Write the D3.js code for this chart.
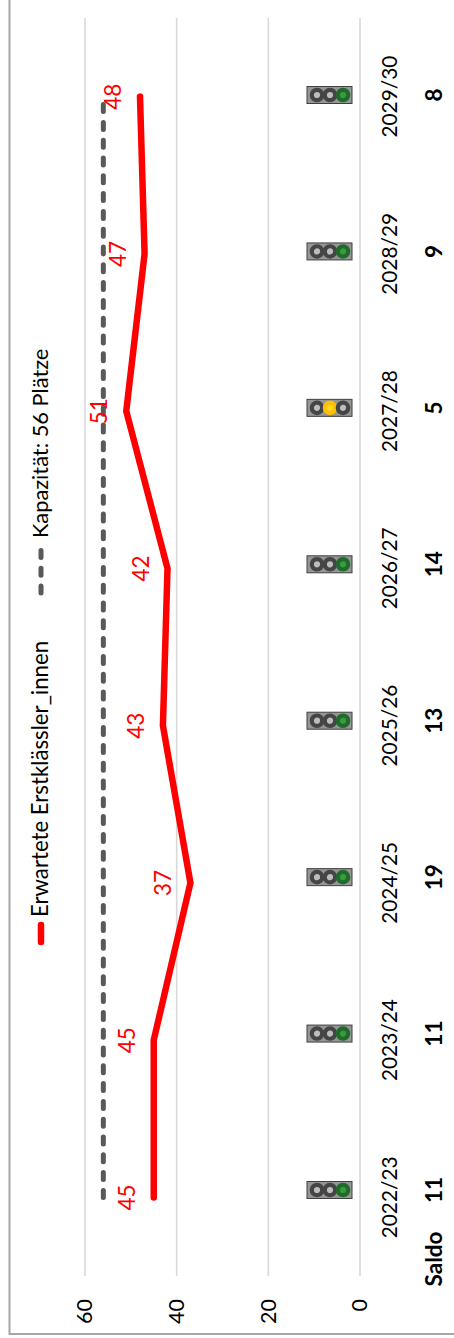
<!DOCTYPE html>
<html>
<head><meta charset="utf-8">
<title>Erstklässler</title>
<style>
html, body { margin:0; padding:0; background:#fff; }
svg { display:block; }
text { font-family:Lato, "Noto Sans", sans-serif; }
</style>
</head>
<body>
<svg width="454" height="1338"></svg>
<script src="https://d3js.org/d3.v7.min.js"></script>
<script>
var years = ["2022/23","2023/24","2024/25","2025/26","2026/27","2027/28","2028/29","2029/30"];
var pupils = [45,45,37,43,42,51,47,48];
var capacity = [56,56,56,56,56,56,56,56];
var saldo = [11,11,19,13,14,5,9,8];
var lights = ["green","green","green","green","green","yellow","green","green"];
var valueTicks = [0,20,40,60];

var W = 454, H = 1338;
var svg = d3.select("svg");

// page frame
svg.append("rect")
    .attr("x", 9.5).attr("y", -10)
    .attr("width", W + 20).attr("height", 1344)
    .attr("fill", "none").attr("stroke", "#a6a6a6").attr("stroke-width", 2);

// the whole chart is laid out upright, then turned a quarter to the left
var g = svg.append("g").attr("transform", "translate(0," + H + ") rotate(-90)");

var x = d3.scaleBand().domain(years).range([62, 1320]);
var y = d3.scaleLinear().domain([0, 60]).range([360, 85]);
// the icon and saldo row sits slightly off the category centres
var xRow = d3.scalePoint().domain(years).range([148, 1243]);

function cx(d, i) { return x(years[i]) + x.bandwidth() / 2; }

g.append("g").selectAll("line")
  .data(valueTicks)
  .enter().append("line")
    .attr("x1", 62).attr("x2", 1320)
    .attr("y1", function(d) { return y(d); })
    .attr("y2", function(d) { return y(d); })
    .attr("stroke", "#d9d9d9").attr("stroke-width", 1.6);

var yAxis = g.append("g").attr("transform", "translate(62,0)")
    .call(d3.axisLeft(y).tickValues(valueTicks).tickSize(0).tickPadding(23));
yAxis.select(".domain").remove();
yAxis.selectAll("text").attr("font-size", 21.5).attr("font-family", "Lato").attr("fill", "#000");

var xAxis = g.append("g").attr("transform", "translate(0,360)")
    .call(d3.axisBottom(x).tickSize(0).tickPadding(22));
xAxis.select(".domain").remove();
xAxis.selectAll("text").attr("font-size", 20.8).attr("font-family", "Lato").attr("fill", "#000");

var line = d3.line().x(cx).y(function(d) { return y(d); });

g.append("path").datum(capacity)
    .attr("d", line)
    .attr("fill", "none").attr("stroke", "#595959").attr("stroke-width", 5)
    .attr("stroke-linecap", "round").attr("stroke-dasharray", "7 10.8");

g.append("path").datum(pupils)
    .attr("d", line)
    .attr("fill", "none").attr("stroke", "#ff0000").attr("stroke-width", 6.5)
    .attr("stroke-linecap", "round").attr("stroke-linejoin", "miter");

g.append("g").selectAll("text")
  .data(pupils)
  .enter().append("text")
    .attr("x", cx)
    .attr("y", function(d) { return y(d) - 19; })
    .attr("text-anchor", "middle")
    .attr("font-size", 22.5).attr("fill", "#ff0000")
    .text(function(d) { return d; });

// traffic lights
var lightColors = { green:["#1e6b2c","#3c9a3c"], yellow:["#ffc000","#ffd42a"] };
var icon = g.append("g").selectAll("g")
  .data(years)
  .enter().append("g")
    .attr("transform", function(d) { return "translate(" + xRow(d) + ",0)"; });

icon.append("rect")
    .attr("x", -8.5).attr("y", y(0) - 53)
    .attr("width", 17).attr("height", 45)
    .attr("fill", "#969696").attr("stroke", "#404040").attr("stroke-width", 1);

[0,1,2].forEach(function(k) {
  icon.append("circle")
    .attr("cx", 0)
    .attr("cy", y(0) - 43 + k * 13)
    .attr("r", 5.2)
    .attr("stroke-width", 4.2)
    .attr("stroke", function(d, i) {
      var on = (lights[i] === "green" && k === 2) || (lights[i] === "yellow" && k === 1);
      return on ? lightColors[lights[i]][0] : "#454545";
    })
    .attr("fill", function(d, i) {
      var on = (lights[i] === "green" && k === 2) || (lights[i] === "yellow" && k === 1);
      return on ? lightColors[lights[i]][1] : "#bdbdbd";
    });
});

// saldo row
g.append("g").selectAll("text")
  .data(saldo)
  .enter().append("text")
    .attr("x", function(d, i) { return xRow(years[i]); })
    .attr("y", 442)
    .attr("text-anchor", "middle")
    .attr("font-size", 22.5).attr("font-weight", 700).attr("fill", "#000")
    .text(function(d) { return d; });

g.append("text")
    .attr("x", 79).attr("y", 442)
    .attr("text-anchor", "middle")
    .attr("font-size", 22.5).attr("font-weight", 700).attr("fill", "#000")
    .text("Saldo");

// legend
var legend = g.append("g").attr("transform", "translate(0,41)");
legend.append("line")
    .attr("x1", 396).attr("x2", 413)
    .attr("stroke", "#ff0000").attr("stroke-width", 6.5).attr("stroke-linecap", "round");
legend.append("text")
    .attr("x", 421).attr("y", 7)
    .attr("font-size", 22.2).attr("fill", "#000")
    .text("Erwartete Erstklässler_innen");
legend.append("line")
    .attr("x1", 745).attr("x2", 788)
    .attr("stroke", "#595959").attr("stroke-width", 5)
    .attr("stroke-linecap", "round").attr("stroke-dasharray", "7 10.8");
legend.append("text")
    .attr("x", 800).attr("y", 7)
    .attr("font-size", 21.8).attr("fill", "#000")
    .text("Kapazität: 56 Plätze");
</script>
</body>
</html>
